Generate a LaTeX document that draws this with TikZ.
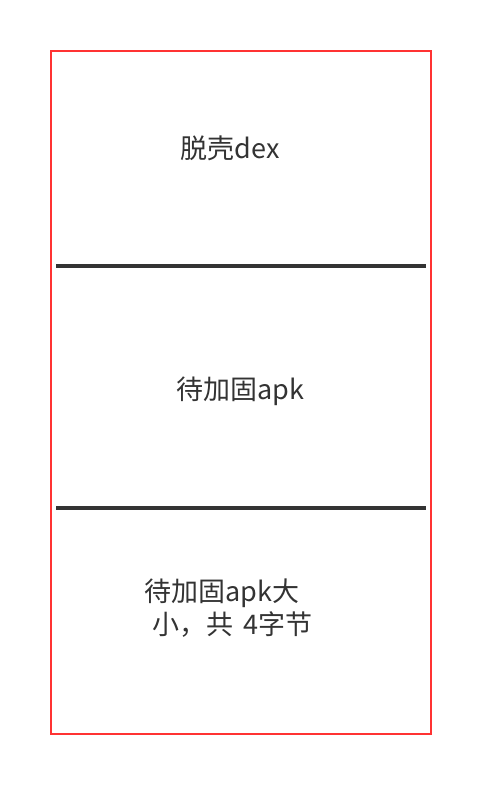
\documentclass[tikz,border=0pt]{standalone}
\usepackage{fontspec}
\setmainfont{Noto Sans CJK SC}
\usetikzlibrary{positioning}
\definecolor{boxred}{HTML}{FF3333}
\definecolor{inkgray}{HTML}{333333}
\tikzset{
  layer/.style={text=inkgray, font=\fontsize{27}{33}\selectfont, inner sep=0pt},
  divider/.style={draw=inkgray, line width=4pt},
}
\begin{document}
\begin{tikzpicture}[x=1pt, y=-1pt]
    \useasboundingbox (0,0) rectangle (480,786);
    % outer frame
    \draw[boxred, line width=2pt] (51,51) rectangle (431,734);
    % separators
    \draw[divider] (56,266) -- (426,266);
    \draw[divider] (56,508) -- (426,508);
    % labels
    \node[layer] (dex) at (230,148) {脱壳dex};
    \node[layer] (apk) at (240,391) {待加固apk};
    \node[layer, align=left, anchor=west] (size) at (144,608) {待加固apk大\\ \hspace{8pt}小，共\hspace{4pt} 4字节};
\end{tikzpicture}
\end{document}
